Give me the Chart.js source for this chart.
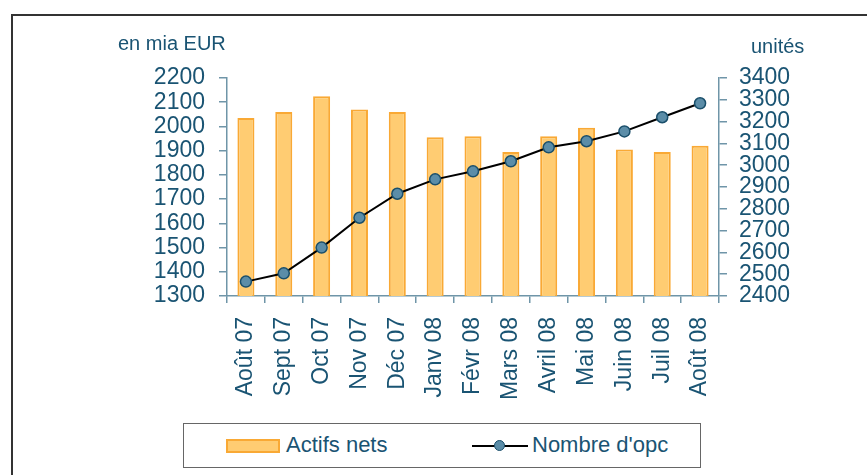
<!DOCTYPE html>
<html>
<head>
<meta charset="utf-8">
<script src="https://cdn.jsdelivr.net/npm/chart.js@4.4.1/dist/chart.umd.min.js"></script>
<style>
  html, body { margin: 0; padding: 0; background: #fff; overflow: hidden; }
  #wrap { position: relative; width: 867px; height: 475px; font-family: 'Liberation Sans', Arial, sans-serif; color: #1a5473; }
  #cadre { position: absolute; left: 11px; top: 14px; width: 900px; height: 500px; border: 2px solid #333; box-sizing: border-box; }
  canvas { position: absolute; left: 0; top: 0; }
  .titre { position: absolute; font-size: 20px; white-space: nowrap; }
  #legende { position: absolute; left: 183px; top: 423px; width: 518px; height: 45px; border: 1px solid #666; box-sizing: border-box; background: #fff; }
  .leg { position: absolute; font-size: 22px; white-space: nowrap; top: 8px; }
</style>
</head>
<body>
<div id="wrap">
  <div id="cadre"></div>
  <canvas id="graphique" width="867" height="475"></canvas>
  <div class="titre" style="left:118px; top:32px;">en mia EUR</div>
  <div class="titre" style="left:751px; top:35px;">unités</div>
  <div id="legende">
    <div style="position:absolute; left:42px; top:15px; width:50px; height:10px; background:#ffcc72; border:2px solid #f9a935;"></div>
    <div class="leg" style="left:102px;">Actifs nets</div>
    <div style="position:absolute; left:288px; top:21px; width:56px; height:2px; background:#000;"></div>
    <div style="position:absolute; left:310px; top:16px; width:9px; height:9px; border-radius:50%; background:#5b8da8; border:1.5px solid #1a4f6b;"></div>
    <div class="leg" style="left:348px;">Nombre d'opc</div>
  </div>
</div>
<script>
const categories = ['Août 07', 'Sept 07', 'Oct 07', 'Nov 07', 'Déc 07', 'Janv 08', 'Févr 08', 'Mars 08', 'Avril 08', 'Mai 08', 'Juin 08', 'Juil 08', 'Août 08'];
const actifsNets = [2035, 2060, 2125, 2070, 2060, 1955, 1960, 1895, 1960, 1995, 1905, 1895, 1920];
const nombreOpc = [2466, 2504, 2622, 2759, 2869, 2935, 2972, 3018, 3082, 3110, 3155, 3220, 3284];
const ticksGauche = [1300, 1400, 1500, 1600, 1700, 1800, 1900, 2000, 2100, 2200];
const ticksDroite = [2400, 2500, 2600, 2700, 2800, 2900, 3000, 3100, 3200, 3300, 3400];

const couleurTexte = '#1a5473';
const couleurAxe = '#6f95a8';
const police = "'Liberation Sans', Arial, sans-serif";

function axeY(position, valeurs, largeur, marge) {
  return {
    position: position,
    min: valeurs[0],
    max: valeurs[valeurs.length - 1],
    afterBuildTicks: function (scale) { scale.ticks = valeurs.map(v => ({ value: v })); },
    afterFit: function (scale) { scale.width = largeur; },
    grid: { drawOnChartArea: false, drawTicks: true, tickLength: 8, color: couleurAxe, lineWidth: 1.5 },
    border: { display: true, color: couleurAxe, width: 1.5 },
    ticks: {
      autoSkip: false,
      color: couleurTexte,
      font: { family: police, size: 23 },
      padding: marge,
      callback: v => String(v)
    }
  };
}

const ctx = document.getElementById('graphique').getContext('2d');
new Chart(ctx, {
  type: 'bar',
  data: {
    labels: categories,
    datasets: [{
      type: 'line',
      label: "Nombre d'opc",
      data: nombreOpc,
      yAxisID: 'y2',
      borderColor: '#000',
      borderWidth: 2,
      pointRadius: 5.5,
      pointBorderWidth: 1.5,
      pointBackgroundColor: '#5b8da8',
      pointBorderColor: '#1a4f6b',
      tension: 0,
      order: 0
    }, {
      label: 'Actifs nets',
      data: actifsNets,
      yAxisID: 'y',
      backgroundColor: '#ffcc72',
      borderColor: '#f9a935',
      borderWidth: 2,
      barPercentage: 0.45,
      categoryPercentage: 1,
      order: 1
    }]
  },
  options: {
    responsive: false,
    animation: false,
    devicePixelRatio: 1,
    layout: { padding: { top: 78, left: 0, right: 0, bottom: 0 } },
    plugins: {
      legend: { display: false },
      tooltip: { enabled: false }
    },
    scales: {
      x: {
        afterFit: function (scale) { scale.height = 179; },
        grid: { drawOnChartArea: false, drawTicks: true, tickLength: 7, color: couleurAxe, lineWidth: 1.5 },
        border: { display: true, color: couleurAxe, width: 1.5 },
        ticks: {
          color: couleurTexte,
          font: { family: police, size: 23 },
          minRotation: 90,
          maxRotation: 90,
          autoSkip: false,
          padding: 14
        }
      },
      y: axeY('left', ticksGauche, 227, 14),
      y2: axeY('right', ticksDroite, 148, 12)
    }
  }
});
</script>
</body>
</html>
